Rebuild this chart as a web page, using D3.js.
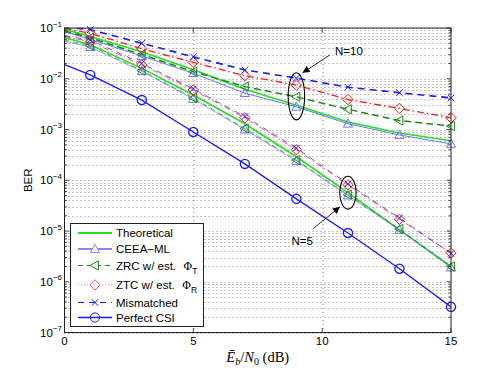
<!DOCTYPE html>
<html>
<head>
<meta charset="utf-8">
<script src="https://cdn.jsdelivr.net/npm/d3@7"></script>
<style>
  body { margin: 0; background: #fff; }
  svg { display: block; font-family: "Liberation Sans", Arial, sans-serif; }
</style>
</head>
<body>
<svg id="chart" width="498" height="375"></svg>
<script>
// Eb/N0 points (dB); markers only on the odd ones
const snr = [0, 1, 3, 5, 7, 9, 11, 13, 15]

// N = 10
const theoN10 = [0.095, 0.068, 0.034, 0.015, 0.0062, 0.0030, 0.0014, 0.00085, 0.0006]
const ceeaN10 = [0.085, 0.060, 0.028, 0.0128, 0.0052, 0.0028, 0.0013, 0.00078, 0.00052]
const zrcN10 = [0.088, 0.064, 0.030, 0.0138, 0.0070, 0.0044, 0.0025, 0.0015, 0.00117]
const ztcN10 = [0.098, 0.079, 0.039, 0.021, 0.0115, 0.0075, 0.0039, 0.0026, 0.0017]
const misN10 = [0.105, 0.093, 0.050, 0.027, 0.0149, 0.0103, 0.0068, 0.0053, 0.0042]

// N = 5
const theoN5 = [0.065, 0.047, 0.016, 0.0048, 0.0013, 0.00029, 5.7e-5, 1.05e-5, 2.0e-6]
const ceeaN5 = [0.055, 0.042, 0.014, 0.0040, 0.0010, 0.00024, 5.0e-5, 1.05e-5, 1.9e-6]
const zrcN5 = [0.058, 0.045, 0.0145, 0.0042, 0.00105, 0.00025, 5.2e-5, 1.1e-5, 2.0e-6]
const ztcN5 = [0.068, 0.054, 0.0187, 0.0060, 0.0017, 0.00040, 8.1e-5, 1.7e-5, 3.7e-6]
const misN5 = [0.070, 0.058, 0.020, 0.0063, 0.0018, 0.00043, 8.5e-5, 1.8e-5, 3.6e-6]

const perfectCSI = [0.019, 0.0119, 0.0038, 0.00089, 0.00021, 4.3e-5, 9.1e-6, 1.8e-6, 3.2e-7]

const xTicks = [0, 5, 10, 15]
const yTicks = [1e-7, 1e-6, 1e-5, 1e-4, 1e-3, 1e-2, 1e-1]

// annotation anchors in data units
const ellipses = [
  { x: 9, yTop: 0.0131, yBot: 0.00155, dx: 0.32 },
  { x: 11, yTop: 1.2e-4, yBot: 2.7e-5, dx: 0.32 }
]
const arrows = [
  { label: "N=10", from: [10.3, 0.0295], to: [9.24, 0.0131], text: [10.5, 0.0295], anchor: "start" },
  { label: "N=5", from: [9.66, 1.12e-5], to: [10.69, 3.0e-5], text: [9.64, 5.4e-6], anchor: "end" }
]

const margin = { top: 28, right: 47, bottom: 42.5, left: 64.5 },
  width = 498 - margin.left - margin.right,
  height = 375 - margin.top - margin.bottom

const svg = d3.select("#chart")
const g = svg.append("g")
  .attr("transform", "translate(" + margin.left + "," + margin.top + ")")

const x = d3.scaleLinear().domain([0, 15]).range([0, width])
const y = d3.scaleLog().domain([1e-7, 1e-1]).range([height, 0])

svg.append("defs").append("clipPath").attr("id", "clip")
  .append("rect").attr("width", width).attr("height", height)

svg.select("defs").append("marker")
  .attr("id", "arrowhead")
  .attr("viewBox", "0 0 10 10")
  .attr("refX", 10).attr("refY", 5)
  .attr("markerWidth", 9).attr("markerHeight", 7)
  .attr("markerUnits", "userSpaceOnUse")
  .attr("orient", "auto")
  .append("path").attr("d", "M0,0L10,5L0,10Z").attr("fill", "#000")

// grid (dotted, every log minor step)
const minor = y.ticks()
g.append("g").selectAll("line").data(minor).enter().append("line")
  .attr("x1", 0).attr("x2", width)
  .attr("y1", d => Math.round(y(d)) + 0.5).attr("y2", d => Math.round(y(d)) + 0.5)
  .attr("stroke", "#888").attr("stroke-width", 1).attr("stroke-dasharray", "1,3")
g.append("g").selectAll("line").data(xTicks.slice(1, -1)).enter().append("line")
  .attr("x1", d => Math.round(x(d)) + 0.5).attr("x2", d => Math.round(x(d)) + 0.5)
  .attr("y1", 0).attr("y2", height)
  .attr("stroke", "#888").attr("stroke-width", 1).attr("stroke-dasharray", "1,3")

// marker shapes
function markerPath(type) {
  if (type === "o") return d3.symbol(d3.symbolCircle, Math.PI * 4.6 * 4.6)()
  if (type === "^") return "M0,-4.8L4.6,3.4L-4.6,3.4Z"
  if (type === "<") return "M-4.8,0L3.4,-4.6L3.4,4.6Z"
  if (type === "d") return "M0,-5.2L5.2,0L0,5.2L-5.2,0Z"
  if (type === "x") return "M-3.3,-3.3L3.3,3.3M-3.3,3.3L3.3,-3.3"
  return ""
}

const series = [
  { data: theoN10, color: "#22e022", w: 1.6, dash: null, marker: null },
  { data: theoN5, color: "#22e022", w: 1.6, dash: null, marker: null },
  { data: ceeaN10, color: "#6f6fff", w: 1, dash: null, marker: "^" },
  { data: ceeaN5, color: "#6f6fff", w: 0.7, dash: null, marker: "^" },
  { data: zrcN10, color: "#1a8a1a", w: 1.5, dash: "7,4", marker: "<" },
  { data: zrcN5, color: "#1a8a1a", w: 0.7, dash: "5,4", marker: "<" },
  { data: ztcN10, color: "#ff1a1a", w: 1.3, dash: "7,3,1.5,3", marker: "d" },
  { data: ztcN5, color: "#ff1a1a", w: 0.7, dash: "6,3,1.5,3", marker: "d" },
  { data: misN10, color: "#1a1aff", w: 1.6, dash: "7,5", marker: "x" },
  { data: misN5, color: "#1a1aff", w: 0.7, dash: "6,5", marker: "x" },
  { data: perfectCSI, color: "#1a1aff", w: 1.3, dash: null, marker: "o" }
]

const line = d3.line().x(d => x(d[0])).y(d => y(d[1]))
const plot = g.append("g").attr("clip-path", "url(#clip)")

series.forEach(s => {
  const pts = snr.map((v, i) => [v, s.data[i]])
  plot.append("path").datum(pts)
    .attr("d", line)
    .attr("fill", "none")
    .attr("stroke", s.color)
    .attr("stroke-width", s.w)
    .attr("stroke-dasharray", s.dash)
  if (s.marker) {
    g.append("g").selectAll("path").data(pts.slice(1)).enter().append("path")
      .attr("d", markerPath(s.marker))
      .attr("transform", d => "translate(" + x(d[0]) + "," + y(d[1]) + ")")
      .attr("fill", "none")
      .attr("stroke", s.color)
      .attr("stroke-width", s.marker === "o" ? 1.3 : 1)
  }
})

// axes box and ticks (inward, MATLAB style)
g.append("rect").attr("width", width).attr("height", height)
  .attr("fill", "none").attr("stroke", "#222").attr("stroke-width", 1)

const majorVals = yTicks
g.append("g").selectAll("line").data(minor).enter().append("line")
  .attr("x1", 0).attr("x2", d => majorVals.includes(d) ? 4.5 : 2.5)
  .attr("y1", d => y(d)).attr("y2", d => y(d))
  .attr("stroke", "#222").attr("stroke-width", 0.8)
g.append("g").selectAll("line").data(minor).enter().append("line")
  .attr("x1", width).attr("x2", d => width - (majorVals.includes(d) ? 4.5 : 2.5))
  .attr("y1", d => y(d)).attr("y2", d => y(d))
  .attr("stroke", "#222").attr("stroke-width", 0.8)
g.append("g").selectAll("line").data(xTicks).enter().append("line")
  .attr("x1", d => x(d)).attr("x2", d => x(d))
  .attr("y1", height).attr("y2", height - 4.5)
  .attr("stroke", "#222").attr("stroke-width", 0.8)
g.append("g").selectAll("line").data(xTicks).enter().append("line")
  .attr("x1", d => x(d)).attr("x2", d => x(d))
  .attr("y1", 0).attr("y2", 4.5)
  .attr("stroke", "#222").attr("stroke-width", 0.8)

// tick labels
g.append("g").selectAll("text").data(xTicks).enter().append("text")
  .attr("x", d => x(d)).attr("y", height + 12.5)
  .attr("text-anchor", "middle").attr("font-size", 11.5)
  .text(d => d)

const yl = g.append("g").selectAll("text").data(yTicks).enter().append("text")
  .attr("x", -2.5).attr("y", d => y(d) + 4.2)
  .attr("text-anchor", "end").attr("font-size", 11.5)
yl.append("tspan").text("10")
yl.append("tspan").attr("dy", -5.5).attr("font-size", 8).text(d => "\u2212" + Math.round(-Math.log10(d)))

// axis labels
svg.append("text")
  .attr("transform", "translate(31.5," + (margin.top + height / 2) + ") rotate(-90)")
  .attr("text-anchor", "middle").attr("font-size", 11.5)
  .text("BER")

const xl = svg.append("text")
  .attr("x", margin.left + width / 2).attr("y", 362)
  .attr("text-anchor", "middle")
  .attr("font-family", "'Liberation Serif', 'DejaVu Serif', serif")
  .attr("font-size", 14.5)
xl.append("tspan").attr("font-style", "italic").text("\u0112")
xl.append("tspan").attr("font-style", "italic").attr("font-size", 10).attr("dy", 3).text("b")
xl.append("tspan").attr("dy", -3).text("/")
xl.append("tspan").attr("font-style", "italic").text("N")
xl.append("tspan").attr("font-size", 10).attr("dy", 3).text("0")
xl.append("tspan").attr("dy", -3).text("\u00a0(dB)")

// annotations
g.append("g").selectAll("ellipse").data(ellipses).enter().append("ellipse")
  .attr("cx", d => x(d.x))
  .attr("cy", d => (y(d.yTop) + y(d.yBot)) / 2)
  .attr("rx", d => x(d.x + d.dx) - x(d.x))
  .attr("ry", d => (y(d.yBot) - y(d.yTop)) / 2)
  .attr("fill", "none").attr("stroke", "#000").attr("stroke-width", 1.1)

arrows.forEach(a => {
  g.append("line")
    .attr("x1", x(a.from[0])).attr("y1", y(a.from[1]))
    .attr("x2", x(a.to[0])).attr("y2", y(a.to[1]))
    .attr("stroke", "#000").attr("stroke-width", 0.8)
    .attr("marker-end", "url(#arrowhead)")
  g.append("text")
    .attr("x", x(a.text[0])).attr("y", y(a.text[1]))
    .attr("text-anchor", a.anchor).attr("font-size", 11.5)
    .text(a.label)
})

// legend
const legendItems = [
  { label: "Theoretical", color: "#22e022", w: 2, dash: null, marker: null, sub: null, ry: 233 },
  { label: "CEEA\u2212ML", color: "#8585ff", w: 2, dash: null, marker: "^", sub: null, ry: 249 },
  { label: "ZRC w/ est. ", color: "#1a8a1a", w: 1, dash: "5,4", marker: "<", sub: "T", ry: 265.5 },
  { label: "ZTC w/ est. ", color: "#ff4a4a", w: 0.8, dash: "1,2", marker: "d", sub: "R", ry: 285 },
  { label: "Mismatched", color: "#1a1aff", w: 1, dash: "6,5", marker: "x", sub: null, ry: 302.5 },
  { label: "Perfect CSI", color: "#1a1aff", w: 1.3, dash: null, marker: "o", sub: null, ry: 317.5 }
]

const lg = svg.append("g")
lg.append("rect").attr("x", 70.5).attr("y", 223.5).attr("width", 133).attr("height", 103)
  .attr("fill", "#fff").attr("stroke", "#222").attr("stroke-width", 1)

legendItems.forEach(it => {
  lg.append("line").attr("x1", 78).attr("x2", 112).attr("y1", it.ry).attr("y2", it.ry)
    .attr("stroke", it.color).attr("stroke-width", it.w).attr("stroke-dasharray", it.dash)
  if (it.marker) {
    lg.append("path").attr("d", markerPath(it.marker))
      .attr("transform", "translate(95," + it.ry + ")")
      .attr("fill", it.marker === "x" || it.marker === "o" ? "none" : "#fff")
      .attr("stroke", it.color).attr("stroke-width", 1)
  }
  const t = lg.append("text").attr("x", 116).attr("y", it.ry + 4).attr("font-size", 11.5)
  t.append("tspan").text(it.label)
  if (it.sub) {
    t.append("tspan").attr("dx", 4)
      .attr("font-family", "'DejaVu Serif', serif").attr("font-size", 11).text("\u03a6")
    t.append("tspan").attr("dy", 4).attr("font-size", 8.5).text(it.sub)
  }
})
</script>
</body>
</html>
